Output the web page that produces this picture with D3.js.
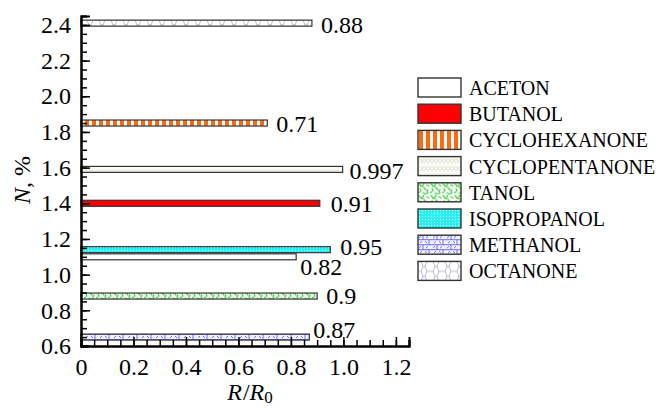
<!DOCTYPE html>
<html>
<head>
<meta charset="utf-8">
<script src="https://cdn.jsdelivr.net/npm/d3@7/dist/d3.min.js"></script>
<style>
  body { margin: 0; background: #fff; }
</style>
</head>
<body>
<div id="main"></div>
<script>
// data
let solvents = ["ACETON", "BUTANOL", "CYCLOHEXANONE", "CYCLOPENTANONE", "TANOL", "ISOPROPANOL", "METHANOL", "OCTANONE"];
let nValues = [1.10, 1.40, 1.85, 1.59, 0.88, 1.14, 0.65, 2.41];   // N, %
let rValues = [0.82, 0.91, 0.71, 0.997, 0.9, 0.95, 0.87, 0.88];   // R/R0
let rLabels = ["0.82", "0.91", "0.71", "0.997", "0.9", "0.95", "0.87", "0.88"];
let xTicks = [0, 0.2, 0.4, 0.6, 0.8, 1.0, 1.2];
let yTicks = [0.6, 0.8, 1.0, 1.2, 1.4, 1.6, 1.8, 2.0, 2.2, 2.4];

let width = 662, height = 408;
let serif = "'Liberation Serif'";

let svg = d3.select('#main').append('svg')
    .attr('width', width)
    .attr('height', height);

let x = d3.scaleLinear().domain([0, 1.25]).range([81, 409]);
let y = d3.scaleLinear().domain([0.6, 2.45]).range([346, 16]);

// ---- patterns
let defs = svg.append('defs');

let p = defs.append('pattern').attr('id', 'p2').attr('patternUnits', 'userSpaceOnUse')
    .attr('width', 7).attr('height', 10);
p.append('rect').attr('width', 7).attr('height', 10).attr('fill', '#fff');
p.append('rect').attr('x', 1).attr('width', 4).attr('height', 10).attr('fill', '#ff6a10');

p = defs.append('pattern').attr('id', 'p3').attr('patternUnits', 'userSpaceOnUse')
    .attr('width', 8).attr('height', 8);
p.append('rect').attr('width', 8).attr('height', 8).attr('fill', '#fbfbf8');
p.append('path').attr('d', 'M0,4 Q2,0 4,4 Q6,8 8,4 M0,4 Q2,8 4,4 Q6,0 8,4')
    .attr('fill', 'none').attr('stroke', '#d6d8c8').attr('stroke-width', 0.8);

p = defs.append('pattern').attr('id', 'p4').attr('patternUnits', 'userSpaceOnUse')
    .attr('width', 12).attr('height', 12);
p.append('rect').attr('width', 12).attr('height', 12).attr('fill', '#fff');
p.append('path').attr('d', 'M1,1 l2,2 M6,0 l-1,2 M9,2 l2,1 M2,6 l1,2 M6,5 l2,2 M10,7 l-1,2 M0,10 l2,-1 M5,10 l2,1 M8,11 l2,-1 M3,3.5 l2,0')
    .attr('stroke', '#3ad23a').attr('stroke-width', 1.3).attr('stroke-linecap', 'round');

p = defs.append('pattern').attr('id', 'p5').attr('patternUnits', 'userSpaceOnUse')
    .attr('width', 3).attr('height', 3);
p.append('rect').attr('width', 3).attr('height', 3).attr('fill', '#20f0f0');
p.append('circle').attr('cx', 1.5).attr('cy', 1.5).attr('r', 0.7).attr('fill', '#c8ffff');

p = defs.append('pattern').attr('id', 'p6').attr('patternUnits', 'userSpaceOnUse')
    .attr('width', 14).attr('height', 10);
p.append('rect').attr('width', 14).attr('height', 10).attr('fill', '#f4f4ff');
p.append('path').attr('d', 'M0,4.5 h14 M0,9.5 h14 M5,0 v4.5 M11,4.5 v5 M1,3 l2,-2 M8,3 l2,-2 M2,8 l2,-2 M7,6 l2,2')
    .attr('stroke', '#5a5aff').attr('stroke-width', 0.9).attr('fill', 'none');

p = defs.append('pattern').attr('id', 'p7').attr('patternUnits', 'userSpaceOnUse')
    .attr('width', 12).attr('height', 10);
p.append('rect').attr('width', 12).attr('height', 10).attr('fill', '#fff');
p.append('path').attr('d', 'M0,0 L3,0 L5,5 L3,10 L0,10 M12,0 L9,0 L7,5 L9,10 L12,10 M5,5 L7,5')
    .attr('stroke', '#b9aec6').attr('stroke-width', 0.9).attr('fill', 'none');

let fills = ['#fff', '#ff0000', 'url(#p2)', 'url(#p3)', 'url(#p4)', 'url(#p5)', 'url(#p6)', 'url(#p7)'];

// label nudges (px) so the value texts do not overlap
let labelDx = [4, 11, 9, 7, 9, 10, 4, 9];
let labelDy = [10, 0, 1, 1, 0, -3, -7, 1];

// ---- bars
let barH = 6;
let bars = svg.append('g').selectAll('g')
    .data(solvents.map((s, i) => ({ name: s, n: nValues[i], r: rValues[i], label: rLabels[i], i: i })))
    .enter().append('g');

bars.append('rect')
    .attr('x', x(0))
    .attr('y', d => y(d.n) - barH / 2)
    .attr('width', d => x(d.r) - x(0))
    .attr('height', barH)
    .attr('fill', d => fills[d.i])
    .attr('stroke', '#333')
    .attr('stroke-width', 1.2);

bars.append('text')
    .attr('x', d => x(d.r) + labelDx[d.i])
    .attr('y', d => y(d.n) + labelDy[d.i])
    .attr('dy', '0.35em')
    .style('font-family', serif)
    .style('font-size', '24px')
    .text(d => d.label);

// ---- axes (ticks drawn inward)
let fmt = v => v === 0 ? '0' : v.toFixed(1);

let gx = svg.append('g').attr('transform', 'translate(0,' + y(0.6) + ')');
gx.call(d3.axisBottom(x).tickValues(d3.range(0, 1.2501, 0.05)).tickSize(-6).tickFormat(''));
gx.append('g').call(d3.axisBottom(x).tickValues(xTicks).tickSize(-9).tickPadding(12).tickFormat(fmt));

let gy = svg.append('g').attr('transform', 'translate(' + x(0) + ',0)');
gy.call(d3.axisLeft(y).tickValues(d3.range(0.6, 2.4501, 0.05)).tickSize(-6).tickFormat(''));
gy.append('g').call(d3.axisLeft(y).tickValues(yTicks).tickSize(-9).tickPadding(-2).tickFormat(fmt));

svg.selectAll('.domain').attr('stroke', '#000').attr('stroke-width', 2);
svg.selectAll('.tick line').attr('stroke', '#000').attr('stroke-width', 1.5);
svg.selectAll('.tick text')
    .style('font-family', serif).style('font-size', '24px').attr('fill', '#000');
gy.selectAll('.tick text').attr('x', -10);

// axis titles
let xt = svg.append('text').attr('x', 250).attr('y', 400).attr('text-anchor', 'middle')
    .style('font-family', serif).style('font-size', '24px');
xt.append('tspan').style('font-style', 'italic').text('R');
xt.append('tspan').attr('dx', 1).text('/');
xt.append('tspan').style('font-style', 'italic').text('R');
xt.append('tspan').style('font-size', '17px').attr('dy', 3).text('0');

let yt = svg.append('text').attr('transform', 'translate(30,180) rotate(-90)')
    .attr('text-anchor', 'middle')
    .style('font-family', serif).style('font-size', '24px');
yt.append('tspan').style('font-style', 'italic').text('N');
yt.append('tspan').text(', %');

// ---- legend
let legend = svg.append('g').attr('transform', 'translate(418,78)')
    .selectAll('g').data(solvents).enter().append('g')
    .attr('transform', (d, i) => 'translate(0,' + (i * 26.2) + ')');

legend.append('rect')
    .attr('width', 43).attr('height', 19)
    .attr('fill', (d, i) => fills[i])
    .attr('stroke', '#333').attr('stroke-width', 1.4);

legend.append('text')
    .attr('x', 51).attr('y', 10).attr('dy', '0.35em')
    .style('font-family', serif).style('font-size', '20px')
    .text(d => d);
</script>
</body>
</html>
